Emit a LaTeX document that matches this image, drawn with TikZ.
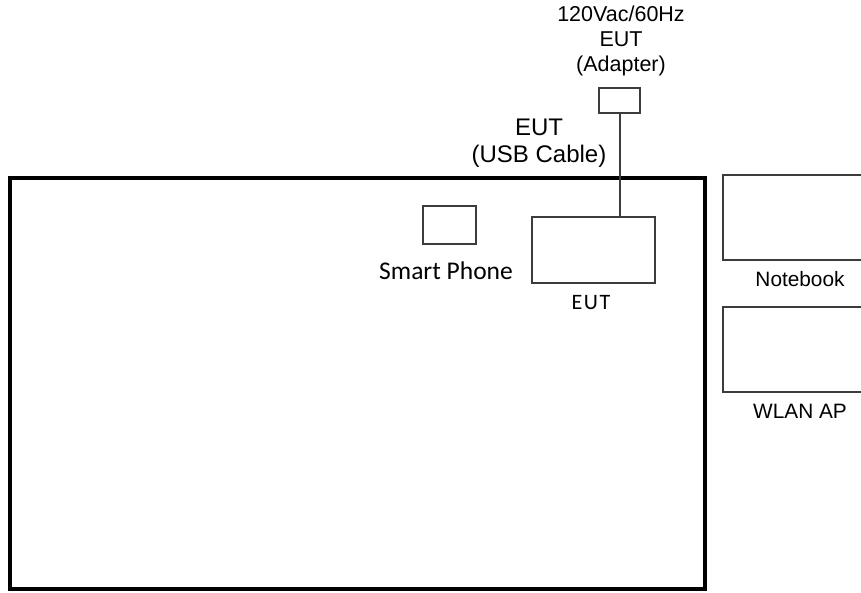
\documentclass[tikz,border=0pt]{standalone}
\usepackage{fontspec}
\setmainfont{Liberation Sans}
\newfontfamily\calfont{Carlito}
\definecolor{boxgray}{HTML}{3C3C3C}
\begin{document}
\begin{tikzpicture}[x=1pt,y=-1pt,
  dev/.style={draw=boxgray,line width=2pt,rectangle,inner sep=0pt,minimum width=#1},
  lbl/.style={inner sep=0pt,align=center,text=black},
  ariallbl/.style={lbl,font=\fontsize{20.8}{24}\selectfont},
  toplbl/.style={lbl,font=\fontsize{21.5}{25}\selectfont},
  callbl/.style={lbl,font=\calfont\fontsize{25.5}{28}\selectfont}]
\useasboundingbox (0,0) rectangle (861,592);
\clip (0,0) rectangle (861,592);
\fill[white] (0,0) rectangle (861,592);
% table
\node[draw=black,line width=4pt,rectangle,inner sep=0pt,minimum width=694.5pt,minimum height=411pt] (table) at (357.25,383.5) {};
% devices
\node[dev=41pt,minimum height=25pt] (adapter) at (619.5,100.5) {};
\node[dev=123pt,minimum height=66pt] (eut) at (593.5,250) {};
\node[dev=53pt,minimum height=38pt] (phone) at (449.5,225) {};
\node[dev=154pt,minimum height=85pt] (notebook) at (800,217.5) {};
\node[dev=154pt,minimum height=85pt] (wlan) at (800,349.5) {};
% cable
\draw[boxgray,line width=2pt] (adapter.south) -- (adapter.south |- eut.north);
% labels
\node[toplbl] (adlbl) at (621,41) {120Vac/60Hz\\EUT\\(Adapter)};
\node[toplbl,font=\fontsize{24}{27}\selectfont] (usblbl) at (539,143.5) {EUT\\(USB Cable)};
\node[callbl] (phonelbl) at (446,271) {Smart Phone};
\node[callbl,font=\calfont\fontsize{22}{26}\selectfont] (eutlbl) at (591,303) {E\kern1.5pt U\kern1.5pt T};
\node[ariallbl] (nblbl) at (800,279) {Notebook};
\node[ariallbl] (wlanlbl) at (800,411) {WLAN AP};
\end{tikzpicture}
\end{document}
